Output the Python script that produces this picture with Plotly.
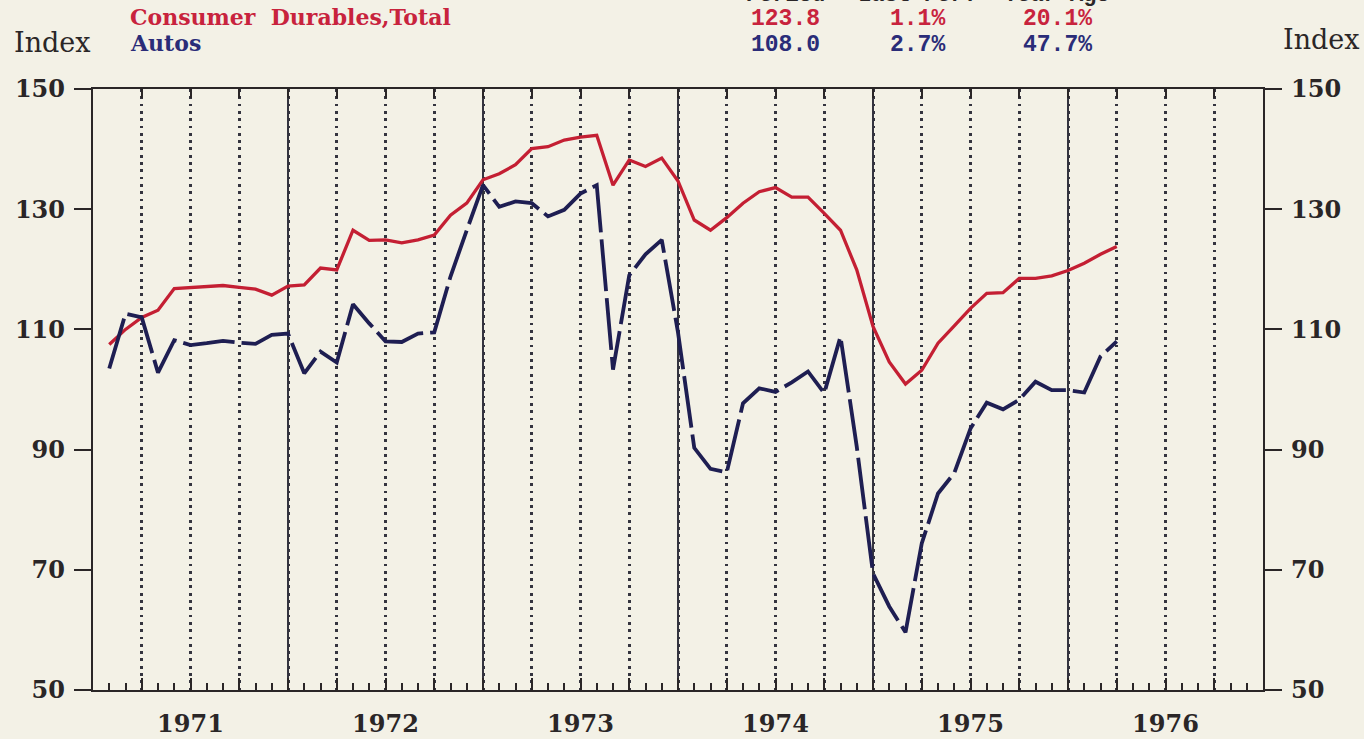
import pandas as pd
import plotly.graph_objects as go

# ---------------- data ----------------
months = pd.date_range("1971-02-01", "1976-04-01", freq="MS")   # monthly observations

durables_total = [
    107.5, 110.0, 112.0, 113.2, 116.8, 117.0, 117.2, 117.3, 117.0, 116.7, 115.7,   # Feb-Dec 1971
    117.2, 117.4, 120.2, 119.9, 126.5, 124.8, 124.9, 124.4, 124.9, 125.7, 129.0, 131.0,  # 1972
    134.9, 135.9, 137.4, 140.1, 140.4, 141.5, 142.0, 142.3, 134.0, 138.2, 137.1, 138.5,  # 1973
    134.7, 128.2, 126.5, 128.6, 131.0, 132.9, 133.6, 132.0, 132.0, 129.3, 126.5, 119.9,  # 1974
    110.5, 104.6, 100.9, 103.2, 107.7, 110.6, 113.5, 116.0, 116.1, 118.5, 118.5, 118.9,  # 1975
    119.8, 121.0, 122.5, 123.8,                                                          # Jan-Apr 1976
]
autos = [
    103.5, 112.6, 112.0, 102.8, 108.2, 107.4, 107.7, 108.1, 107.8, 107.6, 109.1,
    109.3, 102.7, 106.3, 104.5, 114.2, 111.0, 108.0, 107.9, 109.3, 109.5, 118.8, 126.5,
    134.0, 130.4, 131.3, 131.0, 128.8, 129.9, 132.6, 134.0, 103.3, 119.0, 122.5, 124.9,
    109.5, 90.3, 86.8, 86.2, 97.7, 100.2, 99.6, 101.2, 103.0, 99.4, 108.8, 90.5,
    69.4, 63.9, 59.6, 74.4, 82.7, 86.1, 93.5, 97.8, 96.7, 98.3, 101.3, 99.9,
    99.9, 99.5, 105.5, 108.0,
]
years = [1971, 1972, 1973, 1974, 1975, 1976]
y_ticks = [50, 70, 90, 110, 130, 150]

header_cols = ["Period", "Last Per.", "Year Ago"]
durables_stats = ["123.8", "1.1%", "20.1%"]
autos_stats = ["108.0", "2.7%", "47.7%"]

# ---------------- style ----------------
BG = "#f3f1e6"
FRAME = "#2a2627"
GRID = "#34343f"
RED = "#c41f33"
NAVY = "#1e1e52"
RED_TXT = "#c8233d"
NAVY_TXT = "#2a2c78"
SERIF = "DejaVu Serif"
MONO = "Liberation Mono"

W, H = 1364, 739
L, R, T, B = 93, 1263, 89, 690   # plot area in pixels

# month-index scale (0 = Jan 1971)
x_pos = [(d.year - years[0]) * 12 + (d.month - 1) for d in months]
n_months = len(years) * 12
quarters = list(range(0, n_months + 1, 3))
year_starts = list(range(12, n_months, 12))
year_centers = [(y - years[0]) * 12 + 6 for y in years]
qtext = [f"<b>{years[(q - 6) // 12]}</b>" if q in year_centers else "" for q in quarters]


def px_x(px):
    return (px - L) / (R - L)


def px_y(py):
    return (B - py) / (B - T)


fig = go.Figure()
fig.add_trace(go.Scatter(x=x_pos, y=durables_total, mode="lines",
                         line=dict(color=RED, width=3.3), showlegend=False,
                         hoverinfo="skip"))
fig.add_trace(go.Scatter(x=x_pos, y=autos, mode="lines",
                         line=dict(color=NAVY, width=3.8, dash="52px,7px"),
                         showlegend=False, hoverinfo="skip"))
# helper trace for the top / right axes
fig.add_trace(go.Scatter(x=[None], y=[None], xaxis="x2", yaxis="y2",
                         showlegend=False, hoverinfo="skip"))

axis_font = dict(family=SERIF, size=24, color=FRAME)
ylabels = [f"<b>{v}</b>" for v in y_ticks]

fig.update_layout(
    width=W, height=H,
    margin=dict(l=L, r=W - R, t=T, b=H - B, pad=0),
    paper_bgcolor=BG, plot_bgcolor=BG,
    xaxis=dict(range=[0, n_months], tickmode="array", tickvals=quarters, ticktext=qtext,
               ticks="inside", ticklen=12, tickwidth=1.8, tickcolor=FRAME,
               showgrid=True, gridcolor=GRID, gridwidth=2.8, griddash="2.8px,4.5px",
               showline=True, linecolor=FRAME, linewidth=2.4,
               zeroline=False, tickfont=dict(family=SERIF, size=24, color=FRAME),
               ticklabelstandoff=11, automargin=False,
               minor=dict(dtick=1, tick0=0, ticks="inside", ticklen=7, tickwidth=1.6,
                          tickcolor=FRAME, showgrid=False)),
    xaxis2=dict(range=[0, n_months], overlaying="x", side="top", anchor="y2",
                tickmode="array", tickvals=quarters, ticktext=[""] * len(quarters),
                ticks="inside", ticklen=9, tickwidth=1.8, tickcolor=FRAME,
                showgrid=False, showline=True, linecolor=FRAME, linewidth=2.4,
                zeroline=False, automargin=False),
    yaxis=dict(range=[50, 150], tickmode="array", tickvals=y_ticks, ticktext=ylabels,
               ticks="outside", ticklen=17, tickwidth=2, tickcolor=FRAME,
               showgrid=False, showline=True, linecolor=FRAME, linewidth=2.4,
               zeroline=False, tickfont=axis_font, ticklabelstandoff=4, automargin=False),
    yaxis2=dict(range=[50, 150], overlaying="y", side="right", anchor="x2",
                tickmode="array", tickvals=y_ticks, ticktext=ylabels,
                ticks="outside", ticklen=17, tickwidth=2, tickcolor=FRAME,
                showgrid=False, showline=True, linecolor=FRAME, linewidth=2.4,
                zeroline=False, tickfont=axis_font, ticklabelstandoff=4, automargin=False),
)

# solid year boundary lines
for m in year_starts:
    fig.add_shape(type="line", xref="x", yref="paper", x0=m, x1=m, y0=0, y1=1,
                  line=dict(color=GRID, width=2), layer="below")

ann = []


def add_text(text, px, py, color, family, size, xanchor="center", bold=False):
    t = f"<b>{text}</b>" if bold else text
    ann.append(dict(text=t, x=px_x(px), y=px_y(py), xref="paper", yref="paper",
                    xanchor=xanchor, yanchor="middle", showarrow=False,
                    font=dict(family=family, size=size, color=color)))


add_text("Index", 52, 42, FRAME, SERIF, 27)
add_text("Index", 1321, 39, FRAME, SERIF, 27)
add_text("Consumer  Durables,Total", 128, 17, RED_TXT, SERIF, 22, xanchor="left", bold=True)
add_text("Autos", 128, 43, NAVY_TXT, SERIF, 22, xanchor="left", bold=True)

col_x = [785, 917, 1057]
for cx, h in zip(col_x, header_cols):
    add_text(h, cx, -4, FRAME, MONO, 22, bold=True)
for cx, v in zip(col_x, durables_stats):
    add_text(v, cx, 19, RED_TXT, MONO, 23, bold=True)
for cx, v in zip(col_x, autos_stats):
    add_text(v, cx, 45, NAVY_TXT, MONO, 23, bold=True)

fig.update_layout(annotations=ann)

fig.write_html("out.html", config={"displayModeBar": False},
               post_script="document.body.style.margin='0';document.body.style.overflow='hidden';")
